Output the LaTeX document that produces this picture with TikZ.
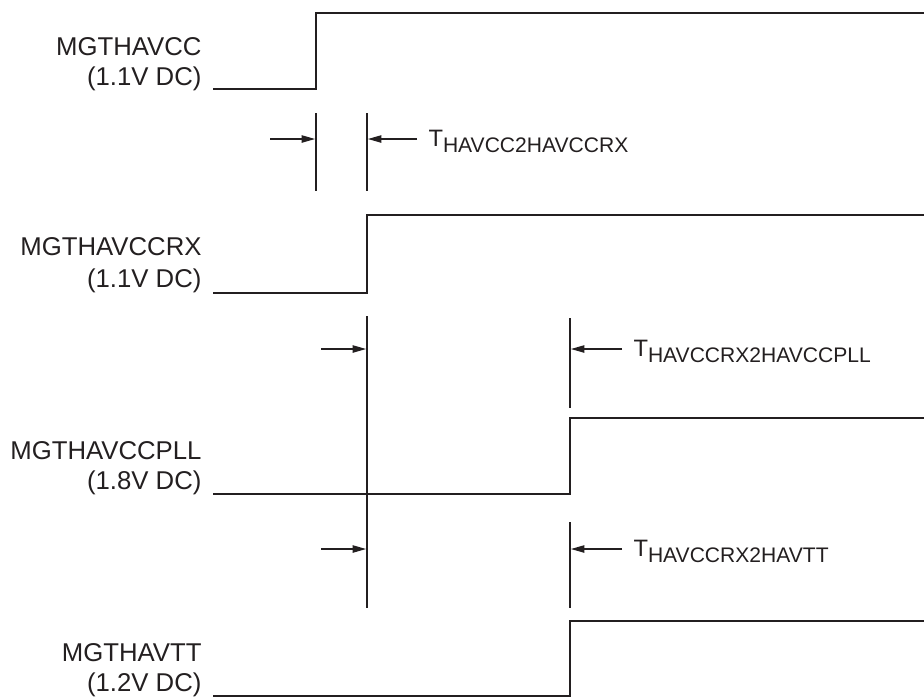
\documentclass[tikz,border=0pt]{standalone}
\usepackage{fontspec}
\setmainfont{Liberation Sans}
\usetikzlibrary{arrows.meta}
\definecolor{wavegrey}{RGB}{35,31,32}
\tikzset{every picture/.style={line width=0.75pt}}
\tikzset{
  signal/.style={draw=wavegrey, line width=1.5pt, line join=miter},
  marker/.style={draw=wavegrey, line width=1.5pt},
  dimarrow/.style={draw=wavegrey, line width=0.85pt, shorten >=0.7pt, -{Triangle[length=10pt,width=5.5pt]}},
  siglabel/.style={anchor=base east, inner sep=0pt, text=wavegrey, font=\fontsize{19.3}{22}\selectfont},
  tlabel/.style={anchor=base west, inner sep=0pt, text=wavegrey, font=\fontsize{17.8}{21}\selectfont}
}
\newcommand{\tsub}[1]{T\raisebox{-5pt}{\fontsize{15.8}{18}\selectfont #1}}

\begin{document}
\begin{tikzpicture}[x=0.75pt,y=0.75pt,yscale=-1,xscale=1]
		\useasboundingbox (0,0) rectangle (924,697);
		
		%Signal: MGTHAVCC
		\draw[signal] (213,89) -- (316,89) -- (316,13) -- (926,13) ;
		\node[siglabel] (havcc) at (202,55) {MGTHAVCC};
		\node[siglabel] (havccv) at (202,85) {(1.1V DC)};
		
		%Signal: MGTHAVCCRX
		\draw[signal] (213,293) -- (367,293) -- (367,215) -- (926,215) ;
		\node[siglabel] (havccrx) at (202,255) {MGTHAVCCRX};
		\node[siglabel] (havccrxv) at (202,287) {(1.1V DC)};
		
		%Signal: MGTHAVCCPLL
		\draw[signal] (213,494) -- (570,494) -- (570,418) -- (926,418) ;
		\node[siglabel] (havccpll) at (202,459) {MGTHAVCCPLL};
		\node[siglabel] (havccpllv) at (202,489) {(1.8V DC)};
		
		%Signal: MGTHAVTT
		\draw[signal] (213,695.5) -- (570,695.5) -- (570,621) -- (926,621) ;
		\node[siglabel] (havtt) at (202,661) {MGTHAVTT};
		\node[siglabel] (havttv) at (202,691) {(1.2V DC)};
		
		%Marker lines
		\coordinate (m1a) at (316,113); \coordinate (m1b) at (316,191);
		\coordinate (m2a) at (367,113); \coordinate (m2b) at (367,191);
		\coordinate (m3a) at (367,316); \coordinate (m3b) at (367,608);
		\coordinate (m4a) at (570,318); \coordinate (m4b) at (570,408);
		\coordinate (m5a) at (570,522); \coordinate (m5b) at (570,608);
		\foreach \m in {m1,m2,m3,m4,m5}
			\draw[marker] (\m a) -- (\m b) ;
		
		%Timing arrows
		\coordinate (a1l) at (270,139);
		\coordinate (a1r) at (417,139);
		\coordinate (a2l) at (321,349);
		\coordinate (a2r) at (622,349);
		\coordinate (a3l) at (321,549);
		\coordinate (a3r) at (622,549);
		\draw[dimarrow] (a1l) -- (a1l -| m1a) ;
		\draw[dimarrow] (a1r) -- (a1r -| m2a) ;
		\draw[dimarrow] (a2l) -- (a2l -| m3a) ;
		\draw[dimarrow] (a2r) -- (a2r -| m4a) ;
		\draw[dimarrow] (a3l) -- (a3l -| m3a) ;
		\draw[dimarrow] (a3r) -- (a3r -| m5a) ;
		
		\node[tlabel] (thavcc) at (428,146) {\tsub{HAVCC2HAVCCRX}};
		\node[tlabel] (thavpll) at (633,356) {\tsub{HAVCCRX2HAVCCPLL}};
		\node[tlabel] (thavtt) at (633,556) {\tsub{HAVCCRX2HAVTT}};
		
	\end{tikzpicture}
\end{document}
